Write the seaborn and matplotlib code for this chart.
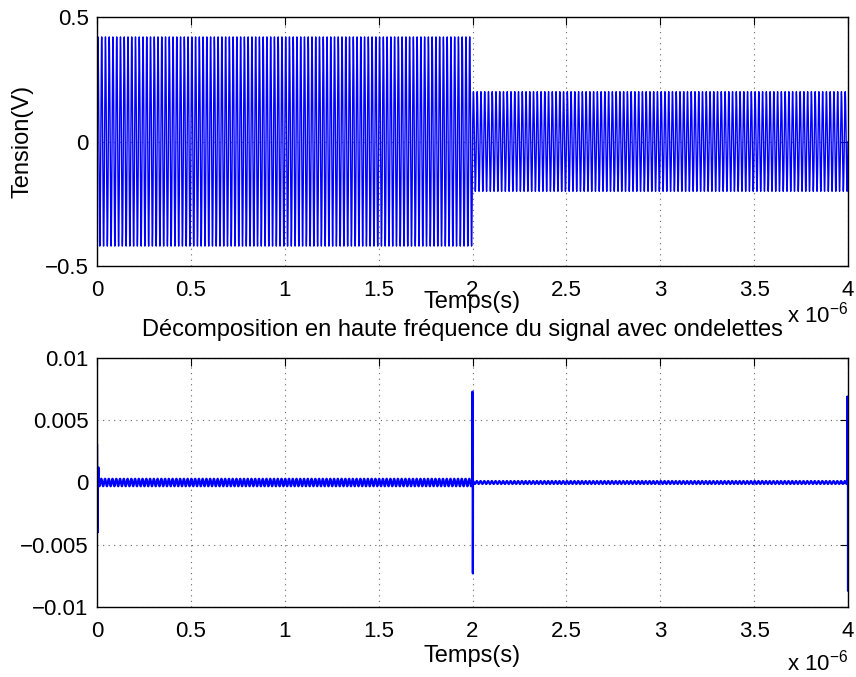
import numpy as np
import pandas as pd
import matplotlib
matplotlib.use("Agg")
import matplotlib.pyplot as plt
import seaborn as sns
from matplotlib.ticker import FuncFormatter

# ---------------- data ----------------
t_end = 4e-6                 # s
t_switch = 2e-6              # s, amplitude change
freq = 50e6                  # Hz (25 cycles per 0.5 µs)
amp_top = [0.42, 0.20]       # V, before / after switch
amp_detail = [0.00030, 0.00012]   # detail band half-width before / after switch
spike_t = [0.0, 0.004e-6, 0.008e-6, 2e-6, 2.002e-6, 4e-6 - 0.004e-6, 4e-6]
spike_v = [0.0031, -0.0040, 0.0012, 0.0073, -0.0073, 0.0069, -0.0087]

x_ticks = [0, 0.5, 1, 1.5, 2, 2.5, 3, 3.5, 4]
y1_ticks = [-0.5, 0, 0.5]
y2_ticks = [-0.01, -0.005, 0, 0.005, 0.01]

# ---------------- build series ----------------
t = np.linspace(0, t_end, 8001)
amp = np.where(t < t_switch, amp_top[0], amp_top[1])
v = amp * np.sin(2 * np.pi * freq * t)
df1 = pd.DataFrame({"t": t, "v": v})

td = np.linspace(0, t_end, 8001)
ampd = np.where(td < t_switch, amp_detail[0], amp_detail[1])
vd = ampd * np.sin(2 * np.pi * freq * td + 0.7)
df2 = pd.DataFrame({"t": np.concatenate([td, spike_t]),
                    "v": np.concatenate([vd, spike_v])}).sort_values("t", kind="stable")

# ---------------- figure ----------------
sns.set_style("white")
plt.rcParams["font.family"] = ["Liberation Sans", "DejaVu Sans"]
plt.rcParams["axes.unicode_minus"] = True
plt.rcParams["text.color"] = "black"

W, H = 856, 677
fig = plt.figure(figsize=(W / 100, H / 100), dpi=100)
ax1 = fig.add_axes([97 / W, 1 - 266 / H, 751 / W, 249 / H])
ax2 = fig.add_axes([97 / W, 1 - 607 / H, 751 / W, 249 / H])

blue = (0, 0, 1)
sns.lineplot(data=df1, x="t", y="v", ax=ax1, color=blue, linewidth=1.0,
             estimator=None, sort=False)
sns.lineplot(data=df2, x="t", y="v", ax=ax2, color=blue, linewidth=1.6,
             estimator=None, sort=False)

fmt_x = FuncFormatter(lambda val, pos: f"{val * 1e6:g}")
fmt_y = FuncFormatter(lambda val, pos: f"{val:g}".replace("-", "\u2212"))

TICK_FS = 16
LABEL_FS = 17
TITLE_FS = 17

for ax, yt in ((ax1, y1_ticks), (ax2, y2_ticks)):
    ax.set_xlim(0, t_end)
    ax.set_xticks([x * 1e-6 for x in x_ticks])
    ax.xaxis.set_major_formatter(fmt_x)
    ax.set_yticks(yt)
    ax.set_ylim(yt[0], yt[-1])
    ax.yaxis.set_major_formatter(fmt_y)
    ax.grid(True, linestyle=(0, (1, 4)), color="0.4", linewidth=0.8)
    ax.tick_params(direction="in", length=6, width=0.8, top=True, right=True,
                   labelsize=TICK_FS, colors="black", labelcolor="black")
    ax.tick_params(axis="x", pad=10)
    ax.tick_params(axis="y", pad=6)
    for s in ax.spines.values():
        s.set_color("black")
        s.set_linewidth(1.0)
    ax.set_xlabel("")
    ax.set_ylabel("")

# axis labels, title, exponent labels (pixel positions from the reference)
def fy(py):
    return 1 - py / H

xc = (97 + 848) / 2 / W
txt = dict(color="black")
fig.text(xc, fy(308), "Temps(s)", ha="center", va="baseline", fontsize=LABEL_FS, **txt)
fig.text(xc, fy(662), "Temps(s)", ha="center", va="baseline", fontsize=LABEL_FS, **txt)
fig.text(462 / W, fy(336), "Décomposition en haute fréquence du signal avec ondelettes",
         ha="center", va="baseline", fontsize=TITLE_FS, **txt)
fig.text(848 / W, fy(322), r"x $\mathregular{10^{-6}}$", ha="right", va="baseline",
         fontsize=TICK_FS, **txt)
fig.text(848 / W, fy(670), r"x $\mathregular{10^{-6}}$", ha="right", va="baseline",
         fontsize=TICK_FS, **txt)
fig.text(22 / W, fy(141), "Tension(V)", ha="center", va="center", rotation=90,
         fontsize=LABEL_FS, **txt)

fig.savefig("out.png", dpi=100)
